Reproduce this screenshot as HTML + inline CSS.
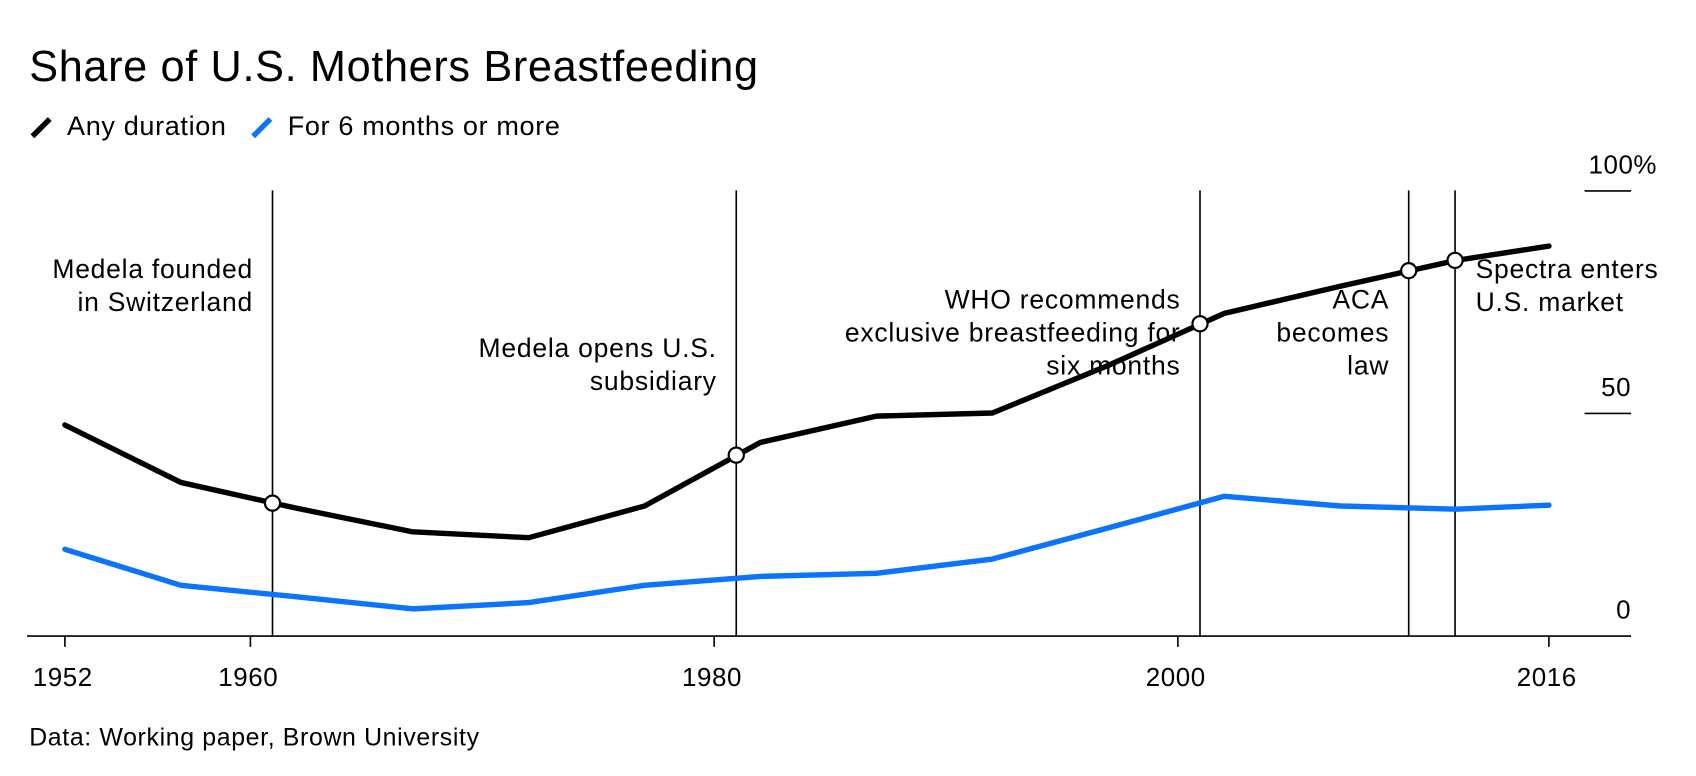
<!DOCTYPE html>
<html><head><meta charset="utf-8"><style>
html,body{margin:0;padding:0;background:#fff;}
svg{display:block;font-family:"Liberation Sans",sans-serif;}
</style></head><body>
<svg id="chart" width="1696" height="776" viewBox="0 0 1568 717.4">
<text x="27" y="75" font-size="40" letter-spacing="0.6" fill="#000">Share of U.S. Mothers Breastfeeding</text>
<g>
<line x1="30" y1="126" x2="46" y2="110" stroke="#000" stroke-width="5"/>
<text x="62" y="125" font-size="25" letter-spacing="0.6">Any duration</text>
<line x1="234" y1="126" x2="250" y2="110" stroke="#0a74ff" stroke-width="5"/>
<text x="266" y="125" font-size="25" letter-spacing="0.6">For 6 months or more</text>
</g>
<g id="plot"></g>
<text x="27" y="689" font-size="23" letter-spacing="0.6">Data: Working paper, Brown University</text>
</svg>
<script>
const years=[1952,1957,1962,1967,1972,1977,1982,1987,1992,1997,2002,2007,2012,2016];
const anyDuration=[47.4,34.5,28.7,23.4,22.1,29.2,43.5,49.4,50.1,60.8,72.5,78.6,84.4,87.6];
const sixMonths=[19.5,11.4,8.8,6.1,7.5,11.4,13.4,14.1,17.3,24.3,31.4,29.2,28.5,29.4];
const yTicks=[0,50,100];
const yTickLabels=["0","50","100%"];
const xTicks=[1952,1960,1980,2000,2016];
const eventYears=[1961,1981,2001,2010,2012];
const eventLabels=[["Medela founded","in Switzerland"],["Medela opens U.S.","subsidiary"],["WHO recommends","exclusive breastfeeding for","six months"],["ACA","becomes","law"],["Spectra enters","U.S. market"]];
const eventLabelTop=[257,330,285,285,257];
const eventAlign=["end","end","end","end","start"];

const NS="http://www.w3.org/2000/svg";
const g=document.getElementById('plot');
const x=y=>60+(y-1952)*(1432-60)/64;
const yS=v=>588-v*4.115;
function mk(t,a,p){const e=document.createElementNS(NS,t);for(const k in a)e.setAttribute(k,a[k]);(p||g).appendChild(e);return e;}
function interp(arr,yr){for(let i=0;i<years.length-1;i++){if(yr>=years[i]&&yr<=years[i+1]){const f=(yr-years[i])/(years[i+1]-years[i]);return arr[i]+f*(arr[i+1]-arr[i]);}}return arr[arr.length-1];}

const ax=mk('line',{x1:25,y1:588,x2:1508,y2:588,stroke:'#000','stroke-width':1.5});


yTicks.forEach((v,i)=>{
  if(v>0){const l=mk('line',{x1:1465,x2:1508,y1:yS(v),y2:yS(v),stroke:'#000','stroke-width':1.5});
  
  }
  const t=mk('text',{x:v===100?1532:1508,y:yS(v)-16,'font-size':24,'letter-spacing':0.5,'text-anchor':'end'});
  t.textContent=yTickLabels[i];
  
  
});
xTicks.forEach(yr=>{
  const l=mk('line',{x1:x(yr),x2:x(yr),y1:588,y2:598,stroke:'#000','stroke-width':1.5});
  
  
  const t=mk('text',{x:x(yr)-2,y:634,'font-size':24,'letter-spacing':0.5,'text-anchor':'middle'});
  t.textContent=yr;
  
  
});
eventYears.forEach((yr,i)=>{
  const xv=x(yr)-1;
  const l=mk('line',{x1:xv,x2:xv,y1:176,y2:588,stroke:'#000','stroke-width':1.5});
  
  
  const t=mk('text',{'font-size':24.5,'letter-spacing':0.7,'text-anchor':eventAlign[i]});
  
  
  eventLabels[i].forEach((s,j)=>{
    const ts=mk('tspan',{x:eventAlign[i]==='end'?xv-18:xv+19,y:eventLabelTop[i]+j*30.5},t);
    ts.textContent=s;
  });
});
function path(arr,color,name){
  const d=arr.map((v,i)=>(i?'L':'M')+x(years[i]).toFixed(1)+','+yS(v).toFixed(1)).join('');
  const p=mk('path',{d:d,fill:'none',stroke:color,'stroke-width':5,'stroke-linejoin':'round','stroke-linecap':'round'});
  
  
}
path(sixMonths,'#0a74ff','line-6-months');
path(anyDuration,'#000','line-any-duration');
eventYears.forEach(yr=>{
  const c=mk('circle',{cx:x(yr)-1,cy:yS(interp(anyDuration,yr)),r:7,fill:'#fff',stroke:'#000','stroke-width':2});
  
  
});
</script>
</body></html>
